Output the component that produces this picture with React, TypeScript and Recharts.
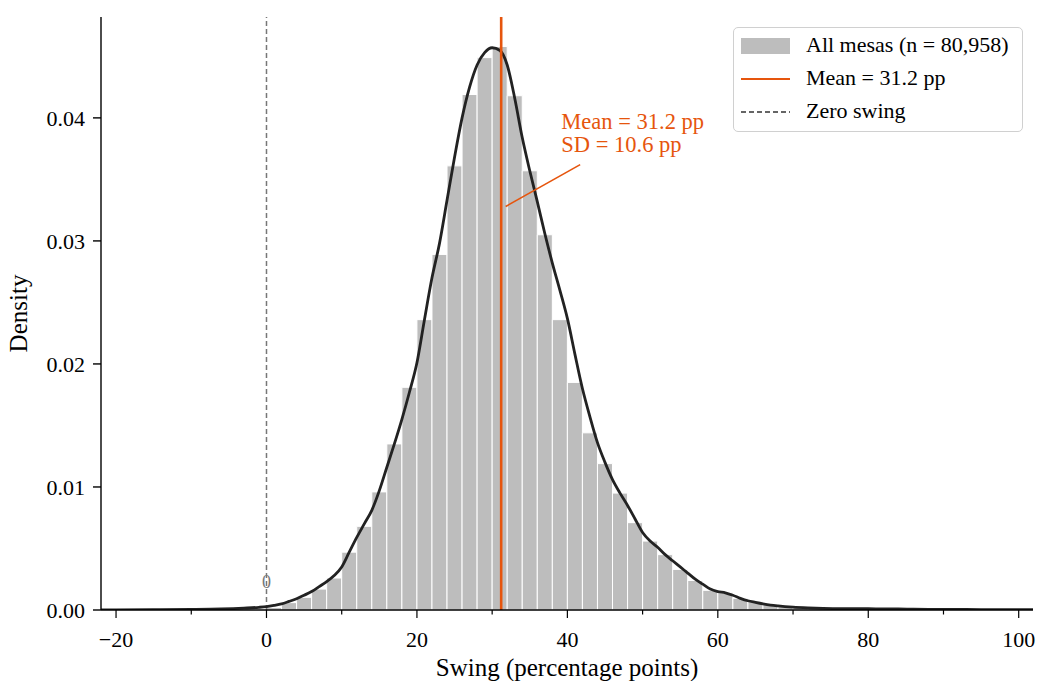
import { ComposedChart, Line, XAxis, YAxis, ReferenceArea, ReferenceLine, ReferenceDot } from 'recharts'

// histogram: bin start (width 2 pp) and density
const binStarts = [0, 2, 4, 6, 8, 10, 12, 14, 16, 18, 20, 22, 24, 26, 28, 30, 32, 34, 36, 38, 40, 42, 44, 46, 48, 50, 52, 54, 56, 58, 60, 62, 64, 66, 68, 70, 72, 74, 76, 78, 80, 82, 84, 86, 88, 90, 92, 94, 96, 98]
const binDensity = [0.0002, 0.0006, 0.00103, 0.0017, 0.0026, 0.0047, 0.0068, 0.0096, 0.0135, 0.0181, 0.0236, 0.0289, 0.0361, 0.0419, 0.0449, 0.0458, 0.0418, 0.0357, 0.0305, 0.0236, 0.0185, 0.0144, 0.0119, 0.0095, 0.0071, 0.0056, 0.0045, 0.0033, 0.0024, 0.0016, 0.0014, 0.00095, 0.00068, 0.00046, 0.00027, 0.0002, 0.00015, 0.00012, 0.0001, 0.0001, 0.0001, 0.00008, 0.00008, 0.00006, 0.00005, 0.00004, 0.00004, 0.00004, 0.00003, 0.00003]
const BIN_W = 2

// kernel density estimate
const kdeX = [-22, -20, -15, -10, -6, -3, -1, 0, 1, 2, 3, 4, 5, 6, 7, 8, 9, 10, 11, 12, 13, 14, 15, 16, 17, 18, 19, 20, 21, 22, 23, 24, 25, 26, 27, 28, 29, 30, 31, 32, 33, 34, 35, 36, 37, 38, 39, 40, 41, 42, 43, 44, 45, 46, 47, 48, 49, 50, 51, 52, 53, 54, 55, 56, 57, 58, 59, 60, 61, 62, 63, 64, 65, 66, 67, 68, 70, 72, 74, 76, 78, 80, 82, 84, 86, 88, 90, 95, 100, 102]
const kdeY = [0.00001, 0.00001, 0.00002, 0.00004, 0.00008, 0.00015, 0.00022, 0.00028, 0.00038, 0.0005, 0.0007, 0.00092, 0.0012, 0.0015, 0.0019, 0.0023, 0.0028, 0.0035, 0.0047, 0.0059, 0.007, 0.0081, 0.0097, 0.0116, 0.0135, 0.0155, 0.0177, 0.0201, 0.0236, 0.027, 0.0298, 0.0333, 0.0368, 0.04, 0.0425, 0.0443, 0.0453, 0.0457, 0.0455, 0.0443, 0.0416, 0.0384, 0.0357, 0.0332, 0.0306, 0.0282, 0.026, 0.0237, 0.0208, 0.018, 0.0157, 0.0136, 0.012, 0.0106, 0.0095, 0.0085, 0.0074, 0.0063, 0.0056, 0.0051, 0.0045, 0.004, 0.0035, 0.003, 0.0025, 0.0021, 0.0017, 0.0015, 0.0014, 0.0012, 0.00095, 0.00075, 0.00062, 0.0005, 0.0004, 0.00033, 0.00023, 0.00017, 0.00013, 0.00011, 0.0001, 0.00011, 0.00008, 0.00009, 0.00006, 0.00005, 0.00005, 0.00003, 0.00002, 0.00002]

const xTicks = [-20, -10, 0, 10, 20, 30, 40, 50, 60, 70, 80, 90, 100]
const yTicks = [0, 0.01, 0.02, 0.03, 0.04]
const MEAN = 31.2
const SD = 10.6
const N_MESAS = '80,958'

const kde = kdeX.map((x, i) => ({ x, y: kdeY[i] }))

const FONT = '"Liberation Serif", "DejaVu Serif", serif'
const ORANGE = '#e6550d'

const XTick = (props: any) => {
  const { x, y, payload } = props
  const v = payload.value
  const major = v % 20 === 0
  const top = y - 10
  return (
    <g>
      <line x1={x} x2={x} y1={top} y2={top + (major ? 8 : 4.5)} stroke="#000" strokeWidth={1.2} />
      {major && (
        <text x={x} y={top + 37} textAnchor="middle" fontSize={22} fontFamily={FONT} fill="#000">
          {v < 0 ? '\u2212' + Math.abs(v) : v}
        </text>
      )}
    </g>
  )
}

export default function App() {
  return (
    <div style={{ position: 'absolute', left: 0, top: 0, width: 1037, height: 681, background: '#fff' }}>
      <ComposedChart width={1037} height={681} data={kde} margin={{ top: 17, right: 4, bottom: 0, left: 0 }}>
        <XAxis
          dataKey="x"
          type="number"
          domain={[-22, 101.9]}
          ticks={xTicks}
          interval={0}
          tick={<XTick />}
          tickLine={false}
          tickSize={7}
          tickMargin={3}
          height={71}
          stroke="#000"
          strokeWidth={1.4}
          allowDataOverflow
          label={(p: any) => {
            const vb = p.viewBox
            return (
              <text x={vb.x + vb.width / 2} y={vb.y + 66} textAnchor="middle" fontSize={25} fontFamily={FONT} fill="#000">
                Swing (percentage points)
              </text>
            )
          }}
        />
        <YAxis
          type="number"
          domain={[0, 0.0482]}
          ticks={yTicks}
          interval={0}
          width={101}
          tickSize={8}
          tickMargin={8}
          tickFormatter={(v: number) => v.toFixed(2)}
          tick={{ fill: '#000', fontSize: 22, fontFamily: FONT }}
          stroke="#000"
          strokeWidth={1.4}
          allowDataOverflow
          label={(p: any) => {
            const vb = p.viewBox
            const cy = vb.y + vb.height / 2
            return (
              <text x={27} y={cy} transform={`rotate(-90 27 ${cy})`} textAnchor="middle" fontSize={25} fontFamily={FONT} fill="#000">
                Density
              </text>
            )
          }}
        />
        {binStarts.map((b, i) => (
          <ReferenceArea
            key={b}
            x1={b}
            x2={b + BIN_W}
            y1={0}
            y2={binDensity[i]}
            fill="#bdbdbd"
            fillOpacity={1}
            stroke="#fff"
            strokeWidth={1}
          />
        ))}
        <ReferenceLine x={0} stroke="#777" strokeWidth={1.5} strokeDasharray="5 3" />
        <ReferenceDot
          x={0}
          y={0.00179}
          r={0}
          shape={(p: any) => (
            <text x={p.cx} y={p.cy} textAnchor="middle" fontSize={18} fontFamily={FONT} fill="#777">
              0
            </text>
          )}
        />
        <Line
          dataKey="y"
          type="monotone"
          stroke="#222"
          strokeWidth={2.8}
          dot={false}
          activeDot={false}
          isAnimationActive={false}
        />
        <ReferenceLine x={MEAN} stroke={ORANGE} strokeWidth={2.6} />
        <ReferenceLine
          segment={[
            { x: 41.7, y: 0.0362 },
            { x: 31.8, y: 0.0328 },
          ]}
          stroke={ORANGE}
          strokeWidth={1.6}
        />
        <ReferenceDot
          x={39.2}
          y={0.03908}
          r={0}
          shape={(p: any) => (
            <text x={p.cx} y={p.cy} fontSize={22.5} fontFamily={FONT} fill={ORANGE}>
              <tspan x={p.cx}>Mean = {MEAN} pp</tspan>
              <tspan x={p.cx} dy={23}>SD = {SD} pp</tspan>
            </text>
          )}
        />
      </ComposedChart>

      {/* legend */}
      <div
        style={{
          position: 'absolute',
          left: 733,
          top: 27,
          width: 288,
          height: 103,
          border: '1.5px solid #d0d0d0',
          borderRadius: 5,
          background: 'rgba(255,255,255,0.85)',
          fontFamily: FONT,
          fontSize: 22,
          color: '#000',
        }}
      >
        <div style={{ position: 'absolute', left: 7, top: 10, width: 49, height: 16, background: '#bdbdbd' }} />
        <div style={{ position: 'absolute', left: 72, top: 4, lineHeight: '26px', whiteSpace: 'nowrap' }}>
          All mesas (n = {N_MESAS})
        </div>
        <div style={{ position: 'absolute', left: 7, top: 50, width: 49, height: 0, borderTop: `2.5px solid ${ORANGE}` }} />
        <div style={{ position: 'absolute', left: 72, top: 37, lineHeight: '26px', whiteSpace: 'nowrap' }}>
          Mean = {MEAN} pp
        </div>
        <svg style={{ position: 'absolute', left: 7, top: 82 }} width={49} height={4}>
          <line x1={0} x2={49} y1={2} y2={2} stroke="#333" strokeWidth={1.5} strokeDasharray="5 3" />
        </svg>
        <div style={{ position: 'absolute', left: 72, top: 70, lineHeight: '26px', whiteSpace: 'nowrap' }}>
          Zero swing
        </div>
      </div>
    </div>
  )
}
